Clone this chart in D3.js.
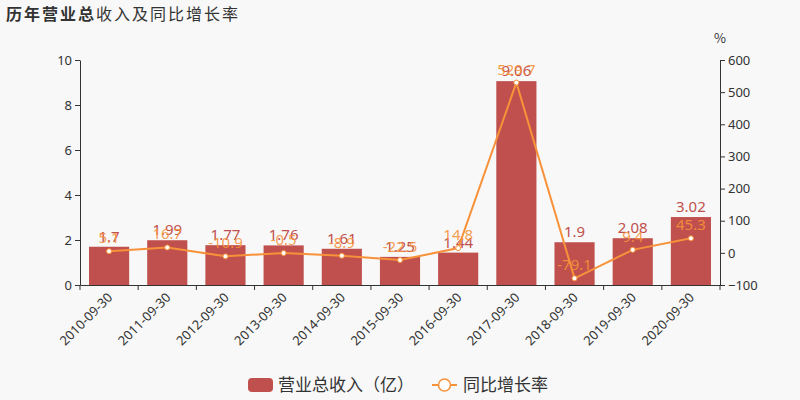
<!DOCTYPE html>
<html>
<head>
<meta charset="utf-8">
<script src="https://cdn.jsdelivr.net/npm/d3@7"></script>
<style>
  body { margin: 0; background: #f8f8f8; }
  svg { font-family: "Noto Sans CJK SC", "Noto Sans", sans-serif; }
</style>
</head>
<body>
<div id="chart"></div>
<script>
// data
var categories = ["2010-09-30", "2011-09-30", "2012-09-30", "2013-09-30", "2014-09-30",
                  "2015-09-30", "2016-09-30", "2017-09-30", "2018-09-30", "2019-09-30", "2020-09-30"]
var revenue = [1.7, 1.99, 1.77, 1.76, 1.61, 1.25, 1.44, 9.06, 1.9, 2.08, 3.02]
var growth = [5.1, 16.7, -10.9, -0.5, -8.9, -22.5, 14.8, 529.7, -79.1, 9.4, 45.3]
var leftTicks = [0, 2, 4, 6, 8, 10]
var rightTicks = [-100, 0, 100, 200, 300, 400, 500, 600]

var width = 800
var height = 400
var barColor = "#c0504d"
var lineColor = "#f7923a"
var textColor = "#333"

var svg = d3.select("#chart").append("svg")
    .attr("width", width)
    .attr("height", height)

svg.append("rect").attr("width", width).attr("height", height).attr("fill", "#f8f8f8")

// title: first part heavier
var title = svg.append("text").attr("x", 6).attr("y", 20).attr("font-size", 16)
    .attr("letter-spacing", 2).attr("fill", textColor)
title.append("tspan").attr("font-weight", "bold").text("历年营业总")
title.append("tspan").text("收入及同比增长率")

var plotLeft = 80, plotRight = 720, plotTop = 60, plotBottom = 285

var x = d3.scaleBand().domain(categories).range([plotLeft, plotRight]).paddingInner(0.31).paddingOuter(0.155)
var yL = d3.scaleLinear().domain([0, 10]).range([plotBottom, plotTop])
var yR = d3.scaleLinear().domain([-100, 600]).range([plotBottom, plotTop])

// axes
var leftAxis = svg.append("g").attr("transform", "translate(" + plotLeft + ",0)")
    .call(d3.axisLeft(yL).tickValues(leftTicks).tickSize(5).tickSizeOuter(0))
var rightAxis = svg.append("g").attr("transform", "translate(" + plotRight + ",0)")
    .call(d3.axisRight(yR).tickValues(rightTicks).tickSize(5).tickSizeOuter(0))
var bottomAxis = svg.append("g").attr("transform", "translate(0," + plotBottom + ")")
    .call(d3.axisBottom(x).tickSize(0).tickFormat(""))

// ticks at band boundaries
var boundaries = d3.range(categories.length + 1).map(function(i) {
    return plotLeft + i * (plotRight - plotLeft) / categories.length
})
bottomAxis.selectAll(".bnd").data(boundaries).enter().append("line")
    .attr("x1", function(d) { return d }).attr("x2", function(d) { return d })
    .attr("y1", 0).attr("y2", 5).attr("stroke", textColor)

;[leftAxis, rightAxis, bottomAxis].forEach(function(g) {
    g.select(".domain").attr("stroke", textColor)
    g.selectAll(".tick line").attr("stroke", textColor)
    g.selectAll("text").attr("fill", textColor).attr("font-size", 13)
        .attr("font-family", "'Noto Sans', sans-serif")
})

svg.append("text").attr("x", 720).attr("y", 43).attr("text-anchor", "middle")
    .attr("font-size", 13).attr("fill", textColor).text("%")

// rotated category labels
svg.selectAll(".xlab").data(categories).enter().append("text")
    .attr("class", "xlab")
    .attr("transform", function(d) {
        return "translate(" + (x(d) + x.bandwidth() / 2 + 1) + "," + (plotBottom + 10) + ") rotate(-45)"
    })
    .attr("text-anchor", "end")
    .attr("dy", "0.35em")
    .attr("font-size", 13)
    .attr("font-family", "'Noto Sans', sans-serif")
    .attr("fill", textColor)
    .text(function(d) { return d })

// bars
svg.selectAll(".bar").data(revenue).enter().append("rect")
    .attr("class", "bar")
    .attr("x", function(d, i) { return x(categories[i]) })
    .attr("width", x.bandwidth())
    .attr("y", function(d) { return yL(d) })
    .attr("height", function(d) { return plotBottom - yL(d) })
    .attr("fill", barColor)

svg.selectAll(".barlab").data(revenue).enter().append("text")
    .attr("x", function(d, i) { return x(categories[i]) + x.bandwidth() / 2 })
    .attr("y", function(d) { return yL(d) - 5 })
    .attr("text-anchor", "middle")
    .attr("font-size", 15)
    .attr("font-family", "'Noto Sans', sans-serif")
    .attr("fill", barColor)
    .text(function(d) { return d })

// growth line
var line = d3.line()
    .x(function(d, i) { return x(categories[i]) + x.bandwidth() / 2 })
    .y(function(d) { return yR(d) })

svg.append("path").datum(growth)
    .attr("d", line)
    .attr("fill", "none")
    .attr("stroke", lineColor)
    .attr("stroke-width", 2)

svg.selectAll(".pt").data(growth).enter().append("circle")
    .attr("cx", function(d, i) { return x(categories[i]) + x.bandwidth() / 2 })
    .attr("cy", function(d) { return yR(d) })
    .attr("r", 2.5)
    .attr("fill", "#fff")
    .attr("stroke", lineColor)
    .attr("stroke-width", 1)

svg.selectAll(".ptlab").data(growth).enter().append("text")
    .attr("x", function(d, i) { return x(categories[i]) + x.bandwidth() / 2 })
    .attr("y", function(d) { return yR(d) - 8 })
    .attr("text-anchor", "middle")
    .attr("font-size", 15)
    .attr("font-family", "'Noto Sans', sans-serif")
    .attr("fill", lineColor)
    .attr("fill-opacity", 0.9)
    .text(function(d) { return d })

// legend
var legend = svg.append("g").attr("font-size", 17).attr("fill", textColor)
legend.append("rect").attr("x", 248).attr("y", 378).attr("width", 25).attr("height", 14)
    .attr("rx", 4).attr("fill", barColor)
legend.append("text").attr("x", 278).attr("y", 391).text("营业总收入（亿）")
legend.append("line").attr("x1", 432).attr("x2", 457).attr("y1", 385).attr("y2", 385)
    .attr("stroke", lineColor).attr("stroke-width", 2)
legend.append("circle").attr("cx", 444.5).attr("cy", 385).attr("r", 6)
    .attr("fill", "#fff").attr("stroke", lineColor).attr("stroke-width", 1.5)
legend.append("text").attr("x", 463).attr("y", 391).text("同比增长率")
</script>
</body>
</html>
